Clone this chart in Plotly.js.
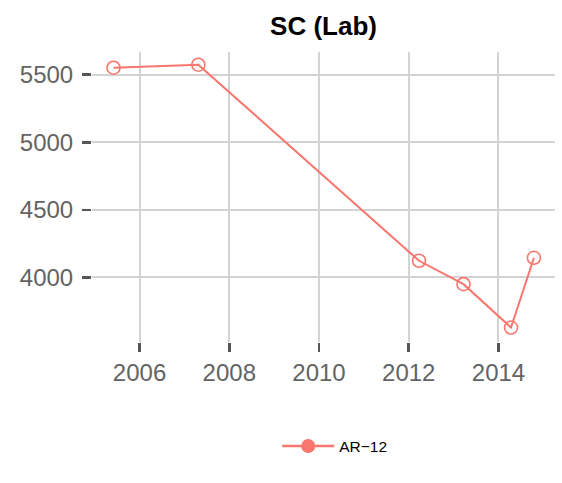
<!DOCTYPE html>
<html>
<head>
<meta charset="utf-8">
<script src="https://cdn.plot.ly/plotly-3.0.1.min.js"></script>
<style>html,body{margin:0;padding:0;background:#fff;}</style>
</head>
<body>
<div id="chart" style="width:562px;height:483px;"></div>
<script>
// Data
var seriesName = "AR\u221212";
var years = [2005.42, 2007.31, 2012.23, 2013.22, 2014.28, 2014.79];
var values = [5552, 5574, 4123, 3950, 3629, 4145];
var xTickVals = [2006, 2008, 2010, 2012, 2014];
var yTickVals = [4000, 4500, 5000, 5500];

var col = "#F8766D";
var traces = [
  {
    x: years, y: values, type: "scatter", mode: "lines+markers",
    name: seriesName, showlegend: false,
    line: {color: col, width: 2},
    marker: {symbol: "circle-open", size: 13, color: col, line: {width: 1.6, color: col}}
  },
  {
    x: [null], y: [null], type: "scatter", mode: "lines+markers",
    name: seriesName, showlegend: true,
    line: {color: col, width: 2.5},
    marker: {symbol: "circle", size: 14, color: col}
  }
];

var layout = {
  width: 562, height: 483,
  paper_bgcolor: "#fff", plot_bgcolor: "#fff",
  margin: {l: 92, r: 7, t: 52, b: 141, pad: 0},
  font: {family: "Liberation Sans, Arial, sans-serif"},
  title: {text: "<b>SC (Lab)</b>", font: {size: 26, color: "#000"},
          xref: "paper", x: 0.5, xanchor: "center", yref: "container", y: 0.946, yanchor: "middle"},
  xaxis: {
    range: [2004.94, 2015.26], tickvals: xTickVals, ticktext: xTickVals.map(String),
    showgrid: true, gridcolor: "#d3d3d3", gridwidth: 2, zeroline: false, showline: false,
    ticks: "outside", ticklen: 9, tickwidth: 2.5, tickcolor: "#555",
    tickfont: {size: 24, color: "#636363"}
  },
  yaxis: {
    range: [3522, 5668], tickvals: yTickVals, ticktext: yTickVals.map(String),
    showgrid: true, gridcolor: "#d3d3d3", gridwidth: 2, zeroline: false, showline: false,
    ticks: "outside", ticklen: 9, tickwidth: 2.5, tickcolor: "#555",
    ticklabelstandoff: 4,
    tickfont: {size: 24, color: "#636363"}
  },
  showlegend: true,
  legend: {
    orientation: "h", x: 0.40, xanchor: "left", y: -0.36, yanchor: "middle",
    font: {size: 15.5, color: "#000"}, itemwidth: 52, bgcolor: "rgba(0,0,0,0)"
  }
};

Plotly.newPlot("chart", traces, layout, {displayModeBar: false, staticPlot: true});
</script>
</body>
</html>
